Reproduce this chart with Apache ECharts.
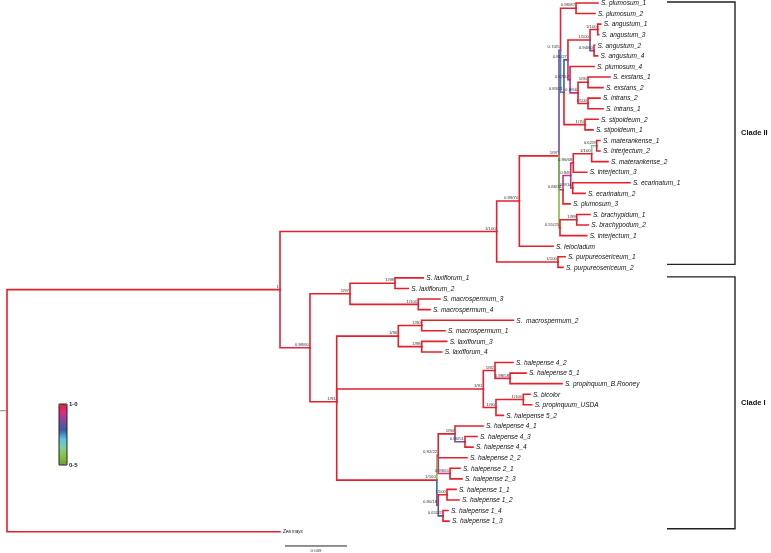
<!DOCTYPE html>
<html><head><meta charset="utf-8">
<script src="https://cdn.jsdelivr.net/npm/echarts@6/dist/echarts.min.js"></script>
<style>html,body{margin:0;padding:0;background:#fff}#c{width:771px;height:553px}</style>
</head><body><div id="c"></div>
<script>
// ---- DATA (branch depths in 10^-3 substitutions/site from root) ----
const leafNames = [
 'S. plumosum_1','S. plumosum_2','S. angustum_1','S. angustum_3','S. angustum_2','S. angustum_4',
 'S. plumosum_4','S. exstans_1','S. exstans_2','S. intrans_2','S. intrans_1','S. stipoideum_2',
 'S. stipoideum_1','S. materankense_1','S. interjectum_2','S. materankense_2','S. interjectum_3',
 'S. ecarinatum_1','S. ecarinatum_2','S. plumosum_3','S. brachypidum_1','S. brachypodum_2',
 'S. interjectum_1','S. leiocladum','S. purpureosericeum_1','S. purpureosericeum_2',
 'S. laxiflorum_1','S. laxiflorum_2','S. macrospermum_3','S. macrospermum_4','S.  macrospermum_2',
 'S. macrospermum_1','S. laxiflorum_3','S. laxiflorum_4','S. halepense 4_2','S. halepense 5_1',
 'S. propinquum_B.Rooney','S. bicolor','S. propinquum_USDA','S. halepense 5_2','S. halepense 4_1',
 'S. halepense 4_3','S. halepense 4_4','S. halepense 2_2','S. halepense 2_1','S. halepense 2_3',
 'S. halepense 1_1','S. halepense 1_2','S. halepense 1_4','S. halepense 1_3','Zea mays'
];
const leafDepth = [
 85.79,85.35,86.18,85.89,85.28,85.72,
 85.21,87.53,86.52,86.08,86.52,85.79,
 85.06,86.08,86.08,87.24,84.15,
 90.43,83.90,81.73,84.63,84.38,
 84.15,79.26,81.00,80.71,
 60.43,58.25,62.85,61.40,73.50,
 63.58,63.83,63.10,73.45,75.34,
 80.56,75.92,76.16,72.04,69.10,
 68.23,67.64,66.77,65.76,66.05,
 65.18,65.61,64.02,64.16,39.63
];
const nodeIds = ['root','n1','cII','npurp','n099','n197','n074','nplum12','nX','nY','nang','nang13','nang24',
 'nP4','nEI','nex','nin','nstip','n086','n09a','n096','nmat','n062','necar','n055','nbrach',
 'cI','n197b','nlax12','nmac34','n191','n106','nmac21','nlax34','nB','n192','n098','n190','n1100b',
 'nhal','n092','n4','n43','n21','n080','n11','n14'];
const nodeChildren = [
 ['n1','Zea mays'], ['cII','cI'], ['n099','npurp'], ['S. purpureosericeum_1','S. purpureosericeum_2'],
 ['n197','S. leiocladum'], ['n074','n086','n055'], ['nplum12','nX'], ['S. plumosum_1','S. plumosum_2'],
 ['nY','nstip'], ['nang','nP4'], ['nang13','nang24'], ['S. angustum_1','S. angustum_3'],
 ['S. angustum_2','S. angustum_4'], ['S. plumosum_4','nEI'], ['nex','nin'], ['S. exstans_1','S. exstans_2'],
 ['S. intrans_2','S. intrans_1'], ['S. stipoideum_2','S. stipoideum_1'], ['n09a','S. plumosum_3'],
 ['n096','necar'], ['nmat','S. interjectum_3'], ['n062','S. materankense_2'],
 ['S. materankense_1','S. interjectum_2'], ['S. ecarinatum_1','S. ecarinatum_2'],
 ['nbrach','S. interjectum_1'], ['S. brachypidum_1','S. brachypodum_2'],
 ['n197b','n191'], ['nlax12','nmac34'], ['S. laxiflorum_1','S. laxiflorum_2'],
 ['S. macrospermum_3','S. macrospermum_4'], ['n106','nB','nhal'], ['nmac21','nlax34'],
 ['S.  macrospermum_2','S. macrospermum_1'], ['S. laxiflorum_3','S. laxiflorum_4'],
 ['n192','n190'], ['S. halepense 4_2','n098'],
 ['S. halepense 5_1','S. propinquum_B.Rooney'], ['n1100b','S. halepense 5_2'],
 ['S. bicolor','S. propinquum_USDA'],
 ['n092','n080'], ['n4','S. halepense 2_2','n21'], ['S. halepense 4_1','n43'],
 ['S. halepense 4_3','S. halepense 4_4'], ['S. halepense 2_1','S. halepense 2_3'], ['n11','n14'],
 ['S. halepense 1_1','S. halepense 1_2'], ['S. halepense 1_4','S. halepense 1_3']
];
const nodeDepth = [0,39.63,71.08,79.98,74.37,80.13,80.35,82.60,80.85,81.43,84.63,85.75,85.21,
 81.73,82.89,84.34,84.34,83.90,80.71,81.83,82.20,84.87,85.60,82.12,80.27,82.70,
 43.98,49.79,56.32,59.70,47.86,56.80,60.20,60.20,69.14,70.84,73.02,70.98,74.95,
 62.40,62.60,65.03,66.48,64.31,62.60,63.87,63.29];
const nodeSupport = ['','1','1/100','1/100','0.99/70','1/97','0.74/5','0.96/87','0.83/21','0.81/27','1/100','1/100','0.94/60',
 '0.87/67','0.9/66','1/90','1/100','1/70','0.86/31','0.9/8','0.96/68','1/100','0.62/9','0.9/14','0.55/25','1/99',
 '0.98/60','1/97','1/98','1/100','1/91','1/96','1/90','1/98','1/91','1/92','0.98/58','1/90','1/100',
 '1/100','0.92/22','1/94','0.86/51','0.93/61','0.80/18','1/100','0.61/22'];
const nodePP = [1,1,1,1,0.99,1,0.84,0.99,0.76,0.8,1,1,0.85,
 0.87,0.9,1,1,1,0.86,0.9,0.96,1,0.66,0.9,0.56,1,
 0.98,1,1,1,1,1,1,1,1,1,0.98,1,1,
 1,0.57,1,0.86,0.93,0.78,1,0.8];
const rootStem = 1.0;
const scaleBarLength = 9;
const scaleBarLabel = '0·009';
const cladeNames = ['Clade II','Clade I'];
const cladeFirst = ['S. plumosum_1','S. laxiflorum_1'];
const cladeLast = ['S. purpureosericeum_2','Zea mays'];
const legendTicks = ['1·0','0·5'];
const outgroup = 'Zea mays';

// ---- BUILD TREE GEOMETRY ----
const info = {};
leafNames.forEach((n,i)=>{info[n]={d:leafDepth[i],y:i,pp:1,leaf:true};});
nodeIds.forEach((id,i)=>{info[id]={d:nodeDepth[i],pp:nodePP[i],ch:nodeChildren[i],sup:nodeSupport[i]};});
function gy(id){const o=info[id]; if(o.y!==undefined) return o.y; let s=0; o.ch.forEach(c=>{s+=gy(c);}); o.y=s/o.ch.length; return o.y;}
gy('root');
const branches=[]; const nodeLabels=[];
function walk(id){const o=info[id]; if(o.leaf) return; if(o.sup) nodeLabels.push([o.d,o.y,o.sup]);
 o.ch.forEach(c=>{const k=info[c]; branches.push([o.d,o.y,k.d,k.y,k.pp]); walk(c);});}
walk('root');
const leafLabelData = leafNames.map((n,i)=>[leafDepth[i],i,n]);
const rootY = info['root'].y;
const cladeData = cladeNames.map((n,i)=>[leafNames.indexOf(cladeFirst[i]),leafNames.indexOf(cladeLast[i]),n]);

const PX = 0.14516; // units per pixel
const chart = echarts.init(document.getElementById('c'),null,{renderer:'canvas'});
const FONT = 'Liberation Sans, Arial, sans-serif';
chart.setOption({
 animation:false,
 backgroundColor:'#fff',
 grid:{left:0,right:0,top:3,bottom:21.3},
 xAxis:{type:'value',min:-7*PX,max:771*PX-7*PX,show:false},
 yAxis:{type:'value',min:0,max:50,inverse:true,show:false},
 visualMap:{type:'continuous',min:0.5,max:1,dimension:4,seriesIndex:0,left:59,top:404,
  itemWidth:8,itemHeight:61,padding:0,calculable:false,text:null,showLabel:false,hoverLink:false,
  inRange:{color:['#6f9a2e','#86c341','#7fcf9a','#5bc3e6','#3c5aa8','#7a4a9e','#e0288a','#e3202c']}},
 graphic:[
  {type:'rect',shape:{x:59,y:404,width:8,height:61},style:{fill:'none',stroke:'#222',lineWidth:1},z:100},
  {type:'text',x:69,y:404,style:{text:legendTicks[0],font:'bold 6px '+FONT,fill:'#222',verticalAlign:'middle'},z:100},
  {type:'text',x:69,y:465,style:{text:legendTicks[1],font:'bold 6px '+FONT,fill:'#222',verticalAlign:'middle'},z:100}
 ],
 series:[
  {type:'custom',clip:false,silent:true,data:branches,
   renderItem:function(p,api){
     const a=api.coord([api.value(0),api.value(1)]);
     const b=api.coord([api.value(0),api.value(3)]);
     const c=api.coord([api.value(2),api.value(3)]);
     return {type:'polyline',shape:{points:[a,b,c]},style:{stroke:api.visual('color'),lineWidth:1.6,fill:null,lineJoin:'miter',lineCap:'square'}};
   }},
  {type:'custom',clip:false,silent:true,data:[[-rootStem,rootY,0,rootY]],
   renderItem:function(p,api){
     const a=api.coord([api.value(0),api.value(1)]);const b=api.coord([api.value(2),api.value(3)]);
     return {type:'line',shape:{x1:a[0],y1:a[1],x2:b[0],y2:b[1]},style:{stroke:'#999',lineWidth:1.2}};
   }},
  {type:'custom',clip:false,silent:true,data:nodeLabels,
   renderItem:function(p,api){
     const a=api.coord([api.value(0),api.value(1)]);
     return {type:'text',x:a[0]-1,y:a[1]-1,style:{text:nodeLabels[p.dataIndex][2],font:'4.3px '+FONT,fill:'#333',align:'right',verticalAlign:'bottom'}};
   }},
  {type:'custom',clip:false,silent:true,data:leafLabelData,
   renderItem:function(p,api){
     const a=api.coord([api.value(0),api.value(1)]);
     const name=leafLabelData[p.dataIndex][2];
     const small=name===outgroup;
     return {type:'text',x:a[0]+3,y:a[1]+0.5,style:{text:name,font:'italic '+(small?'4.5px ':'6.5px ')+FONT,fill:'#111',align:'left',verticalAlign:'middle'}};
   }},
  {type:'custom',clip:false,silent:true,data:[[40.35,51.35]],
   renderItem:function(p,api){
     const a=api.coord([api.value(0),api.value(1)]);const b=api.coord([api.value(0)+scaleBarLength,api.value(1)]);
     return {type:'group',children:[
       {type:'line',shape:{x1:a[0],y1:a[1],x2:b[0],y2:b[1]},style:{stroke:'#222',lineWidth:1}},
       {type:'text',x:(a[0]+b[0])/2,y:a[1]+3,style:{text:scaleBarLabel,font:'4.3px '+FONT,fill:'#333',align:'center',verticalAlign:'top'}}]};
   }},
  {type:'custom',clip:false,silent:true,data:cladeData,
   renderItem:function(p,api){
     const t=api.coord([0,api.value(0)]);const b=api.coord([0,api.value(1)]);
     const x1=667,x2=735;const y1=t[1]-1,y2=b[1]-3;
     return {type:'group',children:[
       {type:'polyline',shape:{points:[[x1,y1],[x2,y1],[x2,y2],[x1,y2]]},style:{stroke:'#222',lineWidth:1.4,fill:null}},
       {type:'text',x:741,y:(y1+y2)/2,style:{text:cladeData[p.dataIndex][2],font:'bold 7.5px '+FONT,fill:'#111',align:'left',verticalAlign:'middle'}}]};
   }}
 ]
});
</script></body></html>
